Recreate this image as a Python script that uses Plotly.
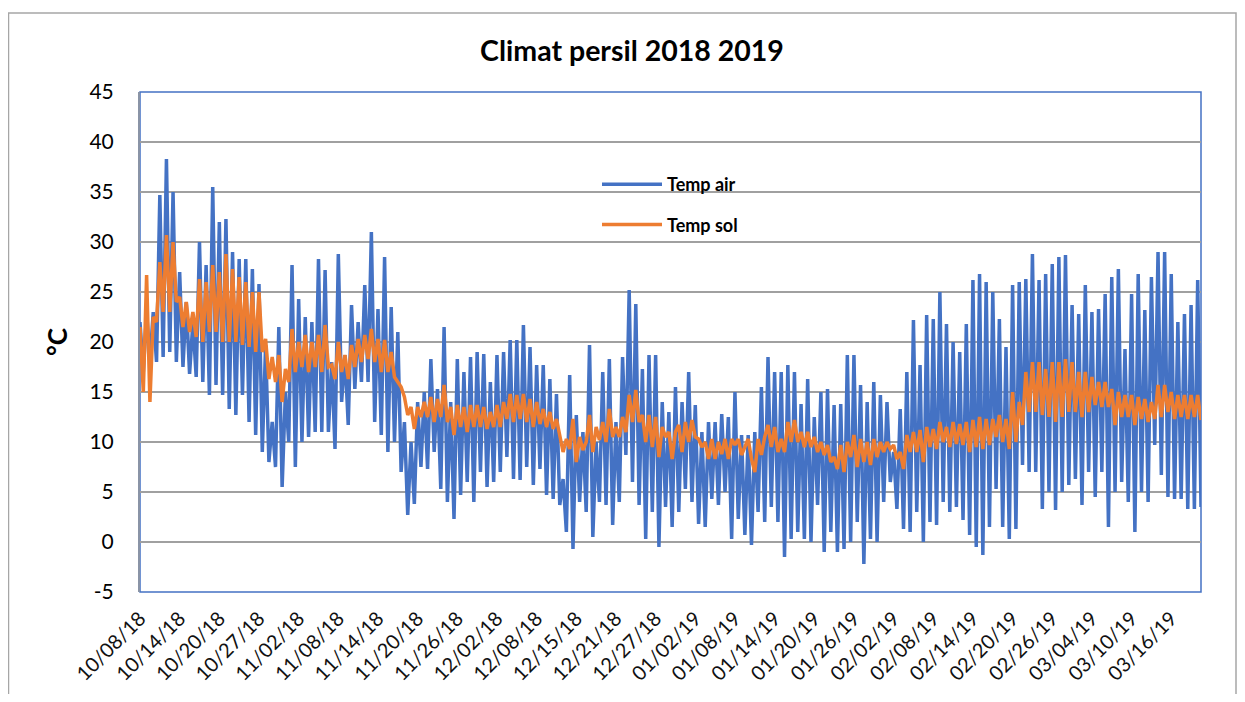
import plotly.graph_objects as go

# ---- data (two readings per day: high / low) ----
air_temp = [
    22, 17, 23, 18, 23, 18, 34.7, 18.5, 38.3, 19,
    35, 18, 27, 17.5, 24, 16.8, 22, 16.5, 30, 16,
    27.7, 14.7, 35.5, 15.7, 32, 14.7, 32.3, 13.3, 29, 12.7,
    28.3, 14.7, 28.3, 12, 27.3, 10.7, 25.8, 9, 19.7, 8,
    12, 7.5, 21.5, 5.5, 15, 10, 27.7, 7.5, 24.3, 10,
    22.5, 10.5, 22, 11,
    28.3, 11, 27.2, 11, 18, 9.3, 28.8, 14, 18.7, 11.7,
    23.7, 15.3, 22, 16, 25.7, 16, 31, 12, 23.3, 10.7,
    28.5, 9, 23.5, 10, 21, 7, 12, 2.7, 10, 3.8,
    14, 7.5, 15, 7.3, 18.3, 9, 15.3, 5.3, 21.5, 4,
    14, 2.3, 18.3, 4.7, 17, 6, 18.5, 4, 19, 7,
    18.8, 5.5, 16, 6,
    18.7, 7, 19, 8.5, 20.2, 6.3, 20.2, 6.2, 21.7, 7.5,
    19.5, 5.7, 17.7, 7.3, 17.7, 4.7, 16.3, 4.3, 14.8, 3.7,
    6.3, 1, 16.7, -0.7, 12.7, 4, 11, 3, 19.7, 0.5,
    10, 4, 17, 3.7, 18.3, 1.7, 12, 4, 18.5, 8.7,
    25.2, 6, 23.8, 3.7, 17.3, 0.3, 18.7, 3, 18.7, -0.5,
    14, 3.5, 13,
    1.5, 15.5, 3, 14, 5.3, 17, 4, 13.7, 1.8, 11,
    1.5, 12, 4.3, 12, 3.7, 12.8, 5, 12.5, 0.3, 15,
    2.3, 10.7, 0.7, 10.7, -0.3, 11, 3, 15.5, 2, 18.5,
    3.5, 17, 2, 17, -1.5, 17.7, 0.3, 17, 1, 13.8,
    0.3, 16.3, 0, 12.5, 3.7, 15, -1, 15.3, 1, 13.7,
    -1, 13.8, -0.7,
    18.7, 0, 18.7, 2, 15.7, -2.2, 14, 0.3, 16, 0,
    14.7, 4, 14, 6, 9, 3.3, 13.3, 1.3, 17, 1,
    22.2, 3, 17.7, 0, 22.7, 2, 22.3, 1.7, 25, 4,
    21.8, 3, 20, 3.5, 19, 2.2, 21.8, 0.7, 26.2, -0.5,
    26.8, -1.3, 26, 1.5, 25, 5.3, 22.3, 1.5, 19.5, 0.3,
    25.7, 1.3, 26, 7.7, 26.3, 7, 28.8, 7, 26.2, 3.3,
    26.8, 5, 27.8, 3.2, 28.5, 5, 28.7, 5.7, 23.7, 6.3,
    22.8, 3.7, 25.7, 7, 23, 4.5, 23.3, 7, 24.8, 1.5,
    26.5, 5, 27.3, 6, 19.3, 4, 24.8, 1, 26.8, 5,
    23.2, 4, 26.5, 9.7, 29, 6.7, 29, 4.5, 26.8, 4.3,
    22, 4.3, 22.8, 3.3, 23.7, 3.3, 26.2, 3.5,
]

soil_temp = [
    21.5, 15, 26.7, 14, 22.5, 22, 28, 23, 30.7, 23,
    30, 24, 24.5, 21.5, 24, 21, 23, 20.5, 26.3, 20,
    26, 21, 27.7, 21, 27, 20, 28.8, 20, 27.3, 20,
    26.5, 19.7, 26, 19.5, 25, 19, 25, 19, 20.3, 16.3,
    18.5, 16, 18.7, 14, 17.3, 16, 21.3, 17, 20, 17.5,
    20.7, 17, 20, 17.5,
    20.7, 17, 21.7, 17.5, 17.7, 16.3, 20, 17, 18.7, 16.3,
    19.7, 17.5, 20.3, 18, 20.7, 18.3, 21.3, 18, 20.3, 17,
    20.2, 17, 19, 16.5, 16, 15.5, 14.5, 12.7, 13.5, 11.3,
    13.5, 12.5, 14, 12.5, 14.5, 12, 14.3, 12.5, 15.7, 12,
    13.5, 10.7, 13.7, 11.5, 13.5, 11, 13.7, 11.5, 13.7, 11.5,
    13.5, 11.3, 13, 11.5,
    13.7, 11.5, 14, 12.3, 14.8, 12, 14.7, 12.3, 14.8, 12,
    14.3, 11.5, 14, 11.8, 13.3, 11.5, 13, 11.3, 12.3, 10.5,
    9, 10.3, 9.3, 12.3, 8, 10.5, 9.2, 10, 12.7, 9,
    11.5, 10.2, 12, 10, 13.3, 10.5, 11.5, 10.5, 12.5, 11,
    14.7, 12, 15.2, 12, 12.7, 10, 12.7, 9.5, 12.5, 8.5,
    11.5, 10.5, 11,
    8.3, 11, 11.7, 9, 12, 10, 12.2, 10.5, 10.3, 9.5,
    10, 8.3, 10.3, 8.3, 10, 8.8, 10.3, 8.3, 10.3, 9.7,
    10.3, 8.7, 9.5, 10.3, 8.3, 7, 10.3, 8.7, 10.5, 11.7,
    9.5, 11.5, 9, 10.3, 9, 12, 10, 12.2, 10, 11,
    9.5, 11, 9.5, 10.5, 9, 10, 8.7, 9.7, 8, 8.5,
    7.3, 9.7, 7,
    10, 8.5, 10.7, 7.5, 10.3, 8, 10, 7.7, 10.3, 8.5,
    10, 9, 10, 9.3, 9.7, 8.3, 9, 7.3, 10.7, 9,
    11, 9, 11.2, 8, 11.5, 9.5, 11.3, 9.3, 12, 10,
    11.5, 9.5, 12, 9.8, 11.8, 9.7, 12, 9, 12.2, 9.5,
    12.5, 9.3, 12.3, 9.7, 12.3, 10.5, 12.7, 10, 12.3, 9.3,
    15, 10, 14, 11.7, 17, 13, 18, 13, 18, 12.7,
    17.3, 12.5, 18, 12, 18, 12.5, 18.3, 13, 18, 13,
    17, 12.5, 17, 13, 16.5, 13.7, 16, 13.5, 16, 13.5,
    15.3, 11.7, 15, 12.5, 14.7, 12.5, 14.7, 11.7, 14.5, 12.3,
    14.3, 12, 14, 12.3, 15.7, 12.5, 15.7, 13, 15, 12.3,
    14.7, 12.5, 14.7, 12.3, 14.7, 12.5, 14.7, 12.2,
]

date_labels = [
    "10/08/18", "10/14/18", "10/20/18", "10/27/18", "11/02/18", "11/08/18",
    "11/14/18", "11/20/18", "11/26/18", "12/02/18", "12/08/18", "12/15/18",
    "12/21/18", "12/27/18", "01/02/19", "01/08/19", "01/14/19", "01/20/19",
    "01/26/19", "02/02/19", "02/08/19", "02/14/19", "02/20/19", "02/26/19",
    "03/04/19", "03/10/19", "03/16/19",
]
samples_per_label = 12

y_ticks = [-5, 0, 5, 10, 15, 20, 25, 30, 35, 40, 45]
y_tick_text = ["-5", "0", "5", "10", "15", "20", "25", "30", "35", "40", "45"]

series_names = ["Temp air", "Temp sol"]
series_colors = ["#4472C4", "#ED7D31"]

n = len(air_temp)
x_idx = list(range(n))
tick_pos = [i * samples_per_label for i in range(len(date_labels))]

FONT = "Lato, Carlito, Calibri, sans-serif"

fig = go.Figure()
for name, vals, col in zip(series_names, [air_temp, soil_temp], series_colors):
    fig.add_trace(go.Scatter(
        x=x_idx, y=vals, mode="lines", name=name, legendgroup=name,
        line=dict(color=col, width=3.5),
    ))

# figure coordinates (page offset of 8 px from the body margin)
W, H = 1229, 686
L, R, T, B = 132, 1193, 84, 584.5
def px(xp):
    return (xp - L) / (R - L)
def py(yp):
    return (B - yp) / (B - T)

fig.update_layout(
    width=W, height=H,
    margin=dict(l=L, r=W - R, t=T, b=H - B, autoexpand=False),
    paper_bgcolor="white", plot_bgcolor="white",
    font=dict(family=FONT, color="#000000"),
    title=dict(text="<b>Climat persil 2018 2019</b>", xref="container", yref="container",
               x=624 / W, xanchor="center", y=1 - 43 / H, yanchor="middle",
               font=dict(family=FONT, size=28.5, color="#000000")),
    showlegend=True,
    legend=dict(x=px(589), y=py(158), xanchor="left", yanchor="top",
                bgcolor="rgba(0,0,0,0)", traceorder="grouped", tracegroupgap=14,
                itemwidth=60,
                font=dict(family=FONT, size=18, color="#000000", weight="bold")),
    xaxis=dict(range=[0, n - 1], tickmode="array", tickvals=tick_pos, ticktext=date_labels,
               tickangle=-45, tickfont=dict(size=20, color="#111111"), ticklabelstandoff=10,
               showgrid=False, zeroline=False, showline=False, ticks="", automargin=False),
    yaxis=dict(range=[-5, 45], tickmode="array", tickvals=y_ticks, ticktext=y_tick_text,
               showgrid=True, gridcolor="#a0a0a0",
               gridwidth=1.6, zeroline=False, showline=True, linecolor="#8a94a6", linewidth=2,
               ticks="", tickfont=dict(size=21, color="#000000"), ticklabelstandoff=20,
               title=dict(text="<b>°C</b>", font=dict(size=26, color="#000000"), standoff=14),
               automargin=False),
    shapes=[
        dict(type="rect", xref="paper", yref="paper", x0=0, x1=1, y0=0, y1=1,
             line=dict(color="#4472C4", width=1.5), layer="below"),
        dict(type="rect", xref="paper", yref="paper", x0=px(0.5), x1=px(1228), y0=py(700), y1=py(5),
             line=dict(color="#a6a6a6", width=1.5), layer="below"),
    ],
)

fig.write_html("out.html")
